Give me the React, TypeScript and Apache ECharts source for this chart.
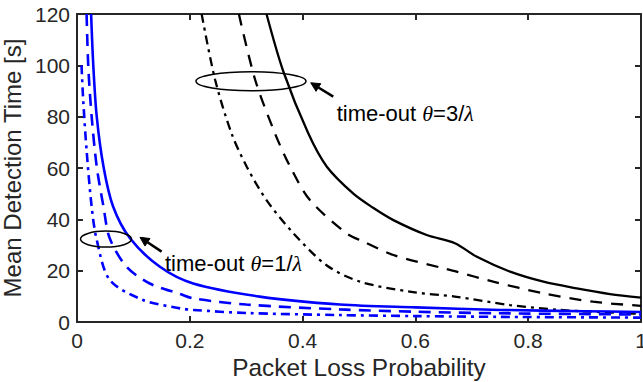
import React, { useEffect, useRef } from 'react';
import * as echarts from 'echarts';

// Axis ticks
const xTickStep = 0.2;
const yTickStep = 20;

// theta = 1/lambda (blue)
const blueSolidX = [0.025, 0.029, 0.035, 0.047, 0.064, 0.094, 0.147, 0.206, 0.324, 0.466, 0.6, 0.75, 0.9, 1.0];
const blueSolidY = [120, 99.5, 80, 60.5, 45, 32.6, 21.5, 15, 9.9, 6.8, 5.7, 4.7, 4.2, 3.9];
const blueDashX = [0.017, 0.02, 0.026, 0.035, 0.047, 0.058, 0.088, 0.129, 0.183, 0.206, 0.3, 0.466, 0.6, 0.75, 1.0];
const blueDashY = [120, 99.5, 80, 60.5, 44.9, 32.6, 21.5, 15, 10.9, 9.2, 6.8, 4.9, 4.0, 3.4, 2.9];
const blueDotDashX = [0.008, 0.011, 0.017, 0.026, 0.035, 0.058, 0.117, 0.183, 0.206, 0.3, 0.466, 0.6, 0.75, 1.0];
const blueDotDashY = [100, 86.5, 67, 44.9, 32, 16.4, 8.6, 5.3, 4.7, 3.5, 2.7, 2.3, 2.0, 1.7];

// theta = 3/lambda (black)
const blackSolidX = [0.336, 0.366, 0.41, 0.443, 0.49, 0.525, 0.561, 0.62, 0.67, 0.709, 0.768, 0.827, 0.886, 0.945, 1.0];
const blackSolidY = [120, 97.5, 73.5, 60.5, 50, 44.5, 39.7, 33.9, 30.7, 25.4, 19.6, 15.7, 13.1, 10.9, 9.5];
const blackDashX = [0.287, 0.316, 0.351, 0.378, 0.413, 0.478, 0.508, 0.561, 0.65, 0.67, 0.738, 0.827, 0.915, 1.0];
const blackDashY = [120, 94.3, 73.5, 60.5, 47.5, 34.5, 31.3, 26.1, 20.9, 19.8, 15.7, 11.2, 7.9, 6.3];
const blackDotDashX = [0.221, 0.245, 0.274, 0.301, 0.336, 0.384, 0.443, 0.502, 0.59, 0.67, 0.768, 0.856, 0.975, 1.0];
const blackDotDashY = [120, 94.3, 73.5, 60.5, 47.5, 34.5, 22, 15.7, 11.8, 9.9, 6.6, 4.7, 3.4, 3.2];

// annotations (data coordinates)
const lowerEllipse = [0.0514, 32.3];
const upperEllipse = [0.3085, 93.8];
const lowerArrow = [[0.15, 27.4], [0.1117, 33.0]];
const upperArrow = [[0.4544, 87.8], [0.4144, 93.2]];
const lowerLabelPos = [0.156, 22.6];
const upperLabelPos = [0.4605, 81.3];
const lowerLabel = ['time-out ', 'θ', '=1/', 'λ'];
const upperLabel = ['time-out ', 'θ', '=3/', 'λ'];

const zip = (xs: number[], ys: number[]) => xs.map((x, i) => [x, ys[i]]);

export default function App() {
  const ref = useRef<HTMLDivElement>(null);
  useEffect(() => {
    if (!ref.current) return;
    const chart = echarts.init(ref.current, null, { renderer: 'svg' });
    const axisColor = '#262626';
    const font = '"Liberation Sans", Arial, Helvetica, sans-serif';
    const serif = '"Liberation Serif", "Times New Roman", serif';

    const xBase = {
      type: 'value',
      min: 0,
      max: 1,
      interval: xTickStep,
      splitLine: { show: false },
      axisLine: { show: true, onZero: false, lineStyle: { color: axisColor, width: 2 } },
      axisTick: { show: true, inside: true, length: 6, lineStyle: { color: axisColor, width: 2 } },
    };
    const yBase = {
      type: 'value',
      min: 0,
      max: 120,
      interval: yTickStep,
      splitLine: { show: false },
      axisLine: { show: true, onZero: false, lineStyle: { color: axisColor, width: 2 } },
      axisTick: { show: true, inside: true, length: 6, lineStyle: { color: axisColor, width: 2 } },
    };

    const line = (name: string, data: number[][], color: string, width: number, type: any) => ({
      name,
      type: 'line',
      data,
      showSymbol: false,
      symbol: 'none',
      smooth: 0.3,
      clip: true,
      lineStyle: { color, width, type, cap: 'butt' },
      z: 3,
    });

    chart.setOption({
      animation: false,
      backgroundColor: '#ffffff',
      grid: { left: 77, right: 2, top: 14, bottom: 60, outerBoundsMode: 'none', containLabel: false },
      xAxis: [
        {
          ...xBase,
          position: 'bottom',
          name: 'Packet Loss Probability',
          nameLocation: 'middle',
          nameGap: 33,
          nameTextStyle: { fontFamily: font, fontSize: 24.4, color: axisColor },
          axisLabel: {
            show: true,
            margin: 8,
            fontFamily: font,
            fontSize: 21,
            color: axisColor,
            showMinLabel: true,
            showMaxLabel: true,
            formatter: (v: number) => String(Math.round(v * 10) / 10),
          },
        },
        { ...xBase, position: 'top', axisLabel: { show: false } },
      ],
      yAxis: [
        {
          ...yBase,
          position: 'left',
          name: 'Mean Detection Time [s]',
          nameLocation: 'middle',
          nameGap: 45,
          nameTextStyle: { fontFamily: font, fontSize: 24, color: axisColor },
          axisLabel: { show: true, margin: 7, fontFamily: font, fontSize: 21, color: axisColor },
        },
        { ...yBase, position: 'right', axisLabel: { show: false } },
      ],
      series: [
        line('blackSolid', zip(blackSolidX, blackSolidY), '#000000', 2.3, 'solid'),
        line('blackDash', zip(blackDashX, blackDashY), '#000000', 2.3, [12, 9]),
        line('blackDotDash', zip(blackDotDashX, blackDotDashY), '#000000', 2.3, [9, 5, 3, 5]),
        line('blueSolid', zip(blueSolidX, blueSolidY), '#0000ff', 2.6, 'solid'),
        line('blueDash', zip(blueDashX, blueDashY), '#0000ff', 2.6, [12, 8]),
        line('blueDotDash', zip(blueDotDashX, blueDotDashY), '#0000ff', 2.6, [9, 5, 3, 5]),
      ],
    });

    const P = (p: number[]) => chart.convertToPixel({ xAxisIndex: 0, yAxisIndex: 0 }, p) as number[];

    const arrow = (tail: number[], tip: number[]) => {
      const s = P(tail);
      const t = P(tip);
      const dx = t[0] - s[0];
      const dy = t[1] - s[1];
      const len = Math.sqrt(dx * dx + dy * dy);
      const ux = dx / len;
      const uy = dy / len;
      const L = 9;
      const w = 4.5;
      const bx = t[0] - ux * L;
      const by = t[1] - uy * L;
      return [
        {
          type: 'line',
          shape: { x1: s[0], y1: s[1], x2: bx, y2: by },
          style: { stroke: '#000', lineWidth: 2.6 },
          z: 10,
        },
        {
          type: 'polygon',
          shape: {
            points: [
              [t[0], t[1]],
              [bx - uy * w, by + ux * w],
              [bx + uy * w, by - ux * w],
            ],
          },
          style: { fill: '#000', stroke: '#000', lineWidth: 1 },
          z: 10,
        },
      ];
    };

    const label = (pos: number[], parts: string[]) => {
      const p = P(pos);
      return {
        type: 'text',
        x: p[0],
        y: p[1],
        z: 10,
        style: {
          text: `{a|${parts[0]}}{b|${parts[1]}}{a|${parts[2]}}{b|${parts[3]}}`,
          verticalAlign: 'middle',
          align: 'left',
          rich: {
            a: { fontFamily: font, fontSize: 22, fill: '#000', color: '#000' },
            b: { fontFamily: serif, fontStyle: 'italic', fontSize: 22, fill: '#000', color: '#000' },
          },
        },
      };
    };

    const le = P(lowerEllipse);
    const ue = P(upperEllipse);

    chart.setOption({
      graphic: [
        {
          type: 'ellipse',
          shape: { cx: le[0], cy: le[1], rx: 25.5, ry: 8 },
          style: { fill: 'none', stroke: '#000', lineWidth: 1.5 },
          z: 10,
        },
        {
          type: 'ellipse',
          shape: { cx: ue[0], cy: ue[1], rx: 55, ry: 9.5 },
          style: { fill: 'none', stroke: '#000', lineWidth: 1.5 },
          z: 10,
        },
        ...arrow(lowerArrow[0], lowerArrow[1]),
        ...arrow(upperArrow[0], upperArrow[1]),
        label(lowerLabelPos, lowerLabel),
        label(upperLabelPos, upperLabel),
      ],
    });

    return () => chart.dispose();
  }, []);
  return <div ref={ref} style={{ position: 'absolute', left: 0, top: 0, width: 643, height: 382 }} />;
}
